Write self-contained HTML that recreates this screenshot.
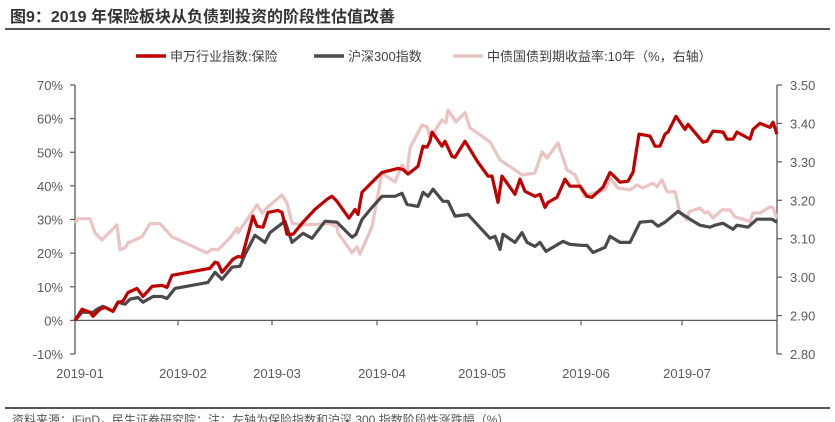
<!DOCTYPE html>
<html><head><meta charset="utf-8"><style>
body{margin:0;width:835px;height:422px;overflow:hidden;background:#fff;font-family:"Liberation Sans","Noto Sans CJK SC",sans-serif;}
svg{display:block}
</style></head><body>
<svg id="chart" width="835" height="422" xmlns="http://www.w3.org/2000/svg" font-family="Liberation Sans, Noto Sans CJK SC, sans-serif">
<text x="10" y="22" font-size="16" font-weight="bold" fill="#333">图9：2019 年保险板块从负债到投资的阶段性估值改善</text>
<line x1="5" y1="29" x2="830" y2="29" stroke="#555" stroke-width="2"/>
<g font-size="13" fill="#404040">
<g><line x1="136" y1="56" x2="166" y2="56" stroke="#C00000" stroke-width="3.5"/><text x="170" y="61">申万行业指数:保险</text></g>
<g><line x1="314" y1="56" x2="344" y2="56" stroke="#4a4a4a" stroke-width="3.5"/><text x="348" y="61">沪深300指数</text></g>
<g><line x1="453" y1="56" x2="483" y2="56" stroke="#EBC3C3" stroke-width="3.5"/><text x="487" y="61">中债国债到期收益率:10年（%，右轴）</text></g>
</g>
<g id="axes"></g>
<g id="series"></g>
<line x1="5" y1="408" x2="830" y2="408" stroke="#555" stroke-width="2"/>
<text x="12" y="424" font-size="12" fill="#555">资料来源：iFinD，民生证券研究院；注：左轴为保险指数和沪深 300 指数阶段性涨跌幅（%）</text>
</svg>
<script>
const leftTicks=[-10,0,10,20,30,40,50,60,70];
const rightTicks=[2.80,2.90,3.00,3.10,3.20,3.30,3.40,3.50];
const monthLabels=["2019-01","2019-02","2019-03","2019-04","2019-05","2019-06","2019-07"];
const monthDays=[0,20.6,39.4,60.4,80.4,101.2,121.4];
const insDays=[0,1.4,3,3.6,5,6,7.6,8.6,9.6,10.6,12.4,13.6,15.4,17.4,18.4,19.4,27,28,28.6,29.4,31.6,32.6,33.4,35.6,36.4,37.6,38.6,40.6,41.4,42.4,43.6,45.6,48,50.4,51.4,52.4,54.8,56,56.6,57.4,60,61.4,64.6,65.6,66.6,68.6,69.6,70.4,71,71.4,72.4,73.4,74,75.4,76,78,80.6,82.6,83.4,84.6,85.4,88,89,90,92,93,94,94.6,96.4,98,99,101,102.4,103.4,105.6,107,108,109,110.6,111.6,112.8,115,116,117,118,118.6,120.2,122,122.6,125.6,126.4,127.6,129.6,130.4,131.6,132.4,135,135.6,137,139,139.6,140.4];
const insVals=[0,3.3,2.4,1.2,3.3,3.9,2.7,5.4,5.7,8.3,9.5,7.1,10.1,10.4,9.8,13.4,15.5,17.3,17,14.3,18.2,19,18.8,31,28,27.7,32.1,32.7,32.1,25.6,25.6,29.2,33,36,36.9,35.4,30.4,33,31.5,38.1,42,44,45.2,44.9,43.5,45.8,51.8,51.5,53.3,56,53.9,51.8,53.3,48.8,48.5,53.3,47,42.9,42.9,35.1,42.9,37.5,42,38.4,36.9,37.5,33.6,35.1,36.6,42,39.9,39.9,36.9,36.6,39.6,44,42.6,41.1,41.4,44,55.4,54.8,51.8,51.8,55.4,56,60.7,56.8,58.3,53,53.3,56.3,56,53.9,53.9,56,53.9,56.8,58.6,57.4,58.9,55.4];
const hsDays=[0,1.4,3.6,4.4,5.6,7.6,8.6,10,11,12.6,13.6,15.6,17.4,18.4,20,26.6,28,29.4,31.4,33,34,36,38,39,42,43.4,45.6,47.4,50,52.4,55.4,56.2,57.4,59.4,61.4,64,65.4,66.4,68.6,69.6,70.6,71.6,73.6,74.6,76,78.6,83,84,85,85.6,88,89.4,90.4,92,93,94.2,97.6,99,101.4,102.4,103.6,106,107,109,111,113,115.4,116.6,118,120.6,123,125,127,128,129.6,131.6,132.4,134.6,136.4,139.4,140.4];
const hsVals=[0,2.4,2.4,3.3,4.2,2.7,5.4,4.8,6.3,6.8,5.4,7.1,7.1,6.5,9.5,11.3,14.3,12.2,15.8,16.1,19.6,25.3,23.2,26.1,29.5,23.2,25.9,24.4,29.5,29.2,24.7,25.6,30,33.6,36.9,36.9,37.8,34.5,33.9,38.1,36.9,39,35.4,35.4,31,31.5,24.4,25,21.1,25.6,23.2,26.1,23.2,22,23.2,20.5,23.5,22.6,22.3,22.3,20.2,21.7,25,23.2,23.2,29.2,29.5,28,29.2,32.4,30.1,28.3,27.7,28.3,28.9,27.1,28.3,27.7,30.1,30.1,29.2];
const bondDays=[0,0.6,3,4,5.4,8.4,9,10,10.6,13.4,15,17,19.4,26.4,27.4,28.6,31,32.4,32.6,36.4,37.4,38.6,41.4,42.4,43.4,45.6,51,52.4,52.6,54.6,55.4,56.4,57,59.4,61.4,64,65.4,66.4,67,69.4,70.4,71,73.4,74.2,74.6,76.2,78,79,83,85,88,89.4,92,93.4,94.4,96.6,98.4,100,102,102.6,106,107,108.6,111,112.4,113.6,115.6,116.4,117.4,118.4,120,121,122.4,122.8,125,126,126.6,127.6,129.4,131,132,134,135,135.6,137,139,139.6,140.4];
const bondVals=[3.141,3.152,3.152,3.115,3.097,3.136,3.071,3.076,3.089,3.105,3.139,3.139,3.105,3.063,3.073,3.071,3.102,3.128,3.115,3.188,3.167,3.183,3.214,3.193,3.141,3.136,3.139,3.131,3.115,3.079,3.063,3.079,3.060,3.131,3.271,3.248,3.292,3.271,3.336,3.396,3.391,3.362,3.409,3.402,3.435,3.404,3.428,3.389,3.352,3.305,3.279,3.266,3.271,3.326,3.310,3.349,3.279,3.266,3.209,3.214,3.227,3.258,3.232,3.227,3.240,3.232,3.245,3.235,3.253,3.222,3.222,3.167,3.149,3.170,3.180,3.167,3.170,3.154,3.175,3.175,3.157,3.149,3.144,3.167,3.167,3.183,3.180,3.154];

const NS="http://www.w3.org/2000/svg";
const X0=75,X1=777,Y0=354,Y1=85,DMAX=140.4;
const xS=d=>X0+d/DMAX*(X1-X0);
const yL=v=>Y0-(v+10)/80*(Y0-Y1);
const yR=v=>Y0-(v-2.8)/0.7*(Y0-Y1);
function mk(tag,attrs,parent){const e=document.createElementNS(NS,tag);for(const k in attrs)e.setAttribute(k,attrs[k]);parent.appendChild(e);return e;}
const axes=document.getElementById('axes');
const ac="#595959";
let e=mk('line',{x1:X0,y1:Y1,x2:X0,y2:Y0,stroke:ac,'stroke-width':1.3},axes);


e=mk('line',{x1:X1,y1:Y1,x2:X1,y2:Y0,stroke:ac,'stroke-width':1.3},axes);


e=mk('line',{x1:X0,y1:yL(0),x2:X1,y2:yL(0),stroke:ac,'stroke-width':1.3},axes);


leftTicks.forEach(v=>{
  mk('line',{x1:X0-5,y1:yL(v),x2:X0,y2:yL(v),stroke:ac,'stroke-width':1.2},axes);
  const t=mk('text',{x:X0-12,y:yL(v)+5,'text-anchor':'end','font-size':13,fill:ac},axes);
  t.textContent=v+'%';
  
  
});
rightTicks.forEach(v=>{
  mk('line',{x1:X1,y1:yR(v),x2:X1+5,y2:yR(v),stroke:ac,'stroke-width':1.2},axes);
  const t=mk('text',{x:X1+13,y:yR(v)+5,'font-size':13,fill:ac},axes);
  t.textContent=v.toFixed(2);
  
  
});
monthDays.forEach((d,i)=>{
  if(i>0)mk('line',{x1:xS(d),y1:yL(0),x2:xS(d),y2:yL(0)+5,stroke:ac,'stroke-width':1.2},axes);
  const t=mk('text',{x:xS(d)+5,y:378,'text-anchor':'middle','font-size':13,fill:ac},axes);
  t.textContent=monthLabels[i];
  
  
});
const ser=document.getElementById('series');
function line(days,vals,ys,color,name){
  const pts=days.map((d,i)=>xS(d).toFixed(1)+','+ys(vals[i]).toFixed(1)).join(' ');
  const p=mk('polyline',{points:pts,fill:'none',stroke:color,'stroke-width':3.2,'stroke-linejoin':'round'},ser);
  
  
}
line(bondDays,bondVals,yR,'#EBC3C3','bond-yield-line');
line(hsDays,hsVals,yL,'#4a4a4a','hs300-line');
line(insDays,insVals,yL,'#C00000','insurance-line');
</script>
</body></html>
